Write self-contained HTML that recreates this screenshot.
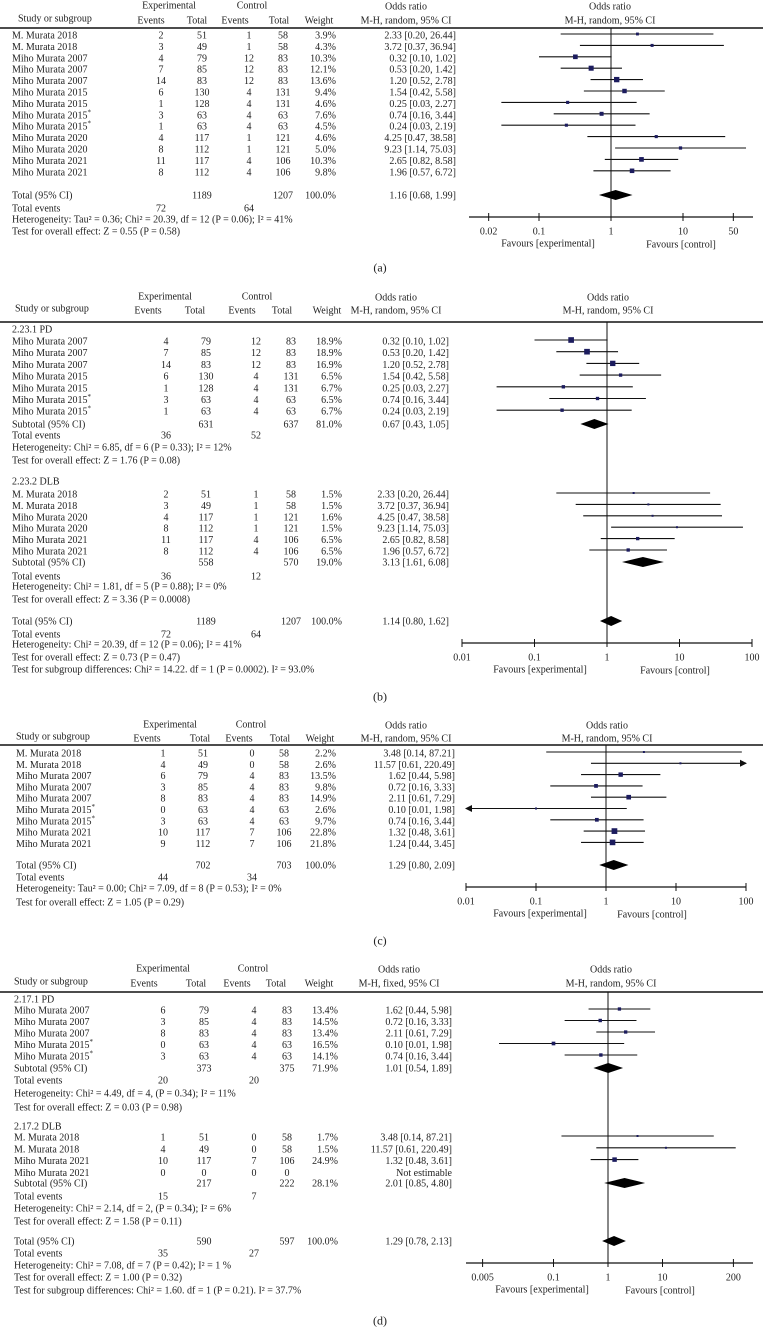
<!DOCTYPE html>
<html><head><meta charset="utf-8">
<style>
html,body{margin:0;padding:0;background:#fff;}
svg{display:block;font-family:"Liberation Serif",serif;font-size:10px;fill:#222;}
</style></head>
<body>
<svg id="fig" width="763" height="1328" viewBox="0 0 763 1328" xmlns="http://www.w3.org/2000/svg"></svg>
<script>
// ===== Panel (a) data =====
const aNames=["M. Murata 2018","M. Murata 2018","Miho Murata 2007","Miho Murata 2007","Miho Murata 2007","Miho Murata 2015","Miho Murata 2015","Miho Murata 2015*","Miho Murata 2015*","Miho Murata 2020","Miho Murata 2020","Miho Murata 2021","Miho Murata 2021"];
const aExpEv=[2,3,4,7,14,6,1,3,1,4,8,11,8];
const aExpTot=[51,49,79,85,83,130,128,63,63,117,112,117,112];
const aCtlEv=[1,1,12,12,12,4,4,4,4,1,1,4,4];
const aCtlTot=[58,58,83,83,83,131,131,63,63,121,121,106,106];
const aWeight=[3.9,4.3,10.3,12.1,13.6,9.4,4.6,7.6,4.5,4.6,5.0,10.3,9.8];
const aOR=[2.33,3.72,0.32,0.53,1.20,1.54,0.25,0.74,0.24,4.25,9.23,2.65,1.96];
const aLo=[0.20,0.37,0.10,0.20,0.52,0.42,0.03,0.16,0.03,0.47,1.14,0.82,0.57];
const aHi=[26.44,36.94,1.02,1.42,2.78,5.58,2.27,3.44,2.19,38.58,75.03,8.58,6.72];
const aTotal=[1189,1207,100.0,1.16,0.68,1.99];
const aEvents=[72,64];
const aTicks=[0.02,0.1,1,10,50];

// ===== Panel (b) data =====
const bPdNames=["Miho Murata 2007","Miho Murata 2007","Miho Murata 2007","Miho Murata 2015","Miho Murata 2015","Miho Murata 2015*","Miho Murata 2015*"];
const bPdExpEv=[4,7,14,6,1,3,1];
const bPdExpTot=[79,85,83,130,128,63,63];
const bPdCtlEv=[12,12,12,4,4,4,4];
const bPdCtlTot=[83,83,83,131,131,63,63];
const bPdWeight=[18.9,18.9,16.9,6.5,6.7,6.5,6.7];
const bPdOR=[0.32,0.53,1.20,1.54,0.25,0.74,0.24];
const bPdLo=[0.10,0.20,0.52,0.42,0.03,0.16,0.03];
const bPdHi=[1.02,1.42,2.78,5.58,2.27,3.44,2.19];
const bPdSub=[631,637,81.0,0.67,0.43,1.05];
const bPdEvents=[36,52];
const bDlbNames=["M. Murata 2018","M. Murata 2018","Miho Murata 2020","Miho Murata 2020","Miho Murata 2021","Miho Murata 2021"];
const bDlbExpEv=[2,3,4,8,11,8];
const bDlbExpTot=[51,49,117,112,117,112];
const bDlbCtlEv=[1,1,1,1,4,4];
const bDlbCtlTot=[58,58,121,121,106,106];
const bDlbWeight=[1.5,1.5,1.6,1.5,6.5,6.5];
const bDlbOR=[2.33,3.72,4.25,9.23,2.65,1.96];
const bDlbLo=[0.20,0.37,0.47,1.14,0.82,0.57];
const bDlbHi=[26.44,36.94,38.58,75.03,8.58,6.72];
const bDlbSub=[558,570,19.0,3.13,1.61,6.08];
const bDlbEvents=[36,12];
const bTotal=[1189,1207,100.0,1.14,0.80,1.62];
const bEvents=[72,64];
const bTicks=[0.01,0.1,1,10,100];

// ===== Panel (c) data =====
const cNames=["M. Murata 2018","M. Murata 2018","Miho Murata 2007","Miho Murata 2007","Miho Murata 2007","Miho Murata 2015*","Miho Murata 2015*","Miho Murata 2021","Miho Murata 2021"];
const cExpEv=[1,4,6,3,8,0,3,10,9];
const cExpTot=[51,49,79,85,83,63,63,117,112];
const cCtlEv=[0,0,4,4,4,4,4,7,7];
const cCtlTot=[58,58,83,83,83,63,63,106,106];
const cWeight=[2.2,2.6,13.5,9.8,14.9,2.6,9.7,22.8,21.8];
const cOR=[3.48,11.57,1.62,0.72,2.11,0.10,0.74,1.32,1.24];
const cLo=[0.14,0.61,0.44,0.16,0.61,0.01,0.16,0.48,0.44];
const cHi=[87.21,220.49,5.98,3.33,7.29,1.98,3.44,3.61,3.45];
const cTotal=[702,703,100.0,1.29,0.80,2.09];
const cEvents=[44,34];
const cTicks=[0.01,0.1,1,10,100];

// ===== Panel (d) data =====
const dPdNames=["Miho Murata 2007","Miho Murata 2007","Miho Murata 2007","Miho Murata 2015*","Miho Murata 2015*"];
const dPdExpEv=[6,3,8,0,3];
const dPdExpTot=[79,85,83,63,63];
const dPdCtlEv=[4,4,4,4,4];
const dPdCtlTot=[83,83,83,63,63];
const dPdWeight=[13.4,14.5,13.4,16.5,14.1];
const dPdOR=[1.62,0.72,2.11,0.10,0.74];
const dPdLo=[0.44,0.16,0.61,0.01,0.16];
const dPdHi=[5.98,3.33,7.29,1.98,3.44];
const dPdSub=[373,375,71.9,1.01,0.54,1.89];
const dPdEvents=[20,20];
const dDlbNames=["M. Murata 2018","M. Murata 2018","Miho Murata 2021","Miho Murata 2021"];
const dDlbExpEv=[1,4,10,0];
const dDlbExpTot=[51,49,117,0];
const dDlbCtlEv=[0,0,7,0];
const dDlbCtlTot=[58,58,106,0];
const dDlbWeight=[1.7,1.5,24.9,null];
const dDlbOR=[3.48,11.57,1.32,null];
const dDlbLo=[0.14,0.61,0.48,null];
const dDlbHi=[87.21,220.49,3.61,null];
const dDlbSub=[217,222,28.1,2.01,0.85,4.80];
const dDlbEvents=[15,7];
const dTotal=[590,597,100.0,1.29,0.78,2.13];
const dEvents=[35,27];
const dTicks=[0.005,0.1,1,10,200];

const NS="http://www.w3.org/2000/svg";
const svg=document.getElementById('fig');
function mk(tag,attrs,parent){const e=document.createElementNS(NS,tag);for(const k in attrs)e.setAttribute(k,attrs[k]);(parent||svg).appendChild(e);return e;}
function txt(x,y,s,anchor,g,name){
  const t=mk('text',{x:x,y:y+3.5,'text-anchor':anchor||'start'},g);
  
  
  if(s.endsWith('*')){t.textContent=s.slice(0,-1);const sp=mk('tspan',{dy:-4,'font-size':'7px'},t);sp.textContent='*';}
  else t.textContent=s;
  return t;
}
function f2(v){return v.toFixed(2);}
function ci(o,l,h){return f2(o)+' ['+f2(l)+', '+f2(h)+']';}

function panel(P){
  const g=mk('g',{});
  
  
  const H=P.hc, C=P.nc;
  const X=v=>P.cx+Math.log10(v)*P.dec;
  // headers
  txt(H.exp,P.y1,'Experimental','middle',g,'experimental-header');
  txt(H.ctl,P.y1,'Control','middle',g,'control-header');
  txt(H.orh,P.y1+1,'Odds ratio','middle',g,'odds-ratio-header');
  txt(H.forh,P.y1+1,'Odds ratio','middle',g,'forest-odds-ratio-header');
  txt(H.study,P.y2-2,'Study or subgroup','start',g,'study-header');
  txt(H.ev,P.y2,'Events','middle',g,'exp-events-header');
  txt(H.tot,P.y2,'Total','middle',g,'exp-total-header');
  txt(H.cev,P.y2,'Events','middle',g,'ctl-events-header');
  txt(H.ctot,P.y2,'Total','middle',g,'ctl-total-header');
  txt(H.wt,P.y2,'Weight','middle',g,'weight-header');
  txt(H.orh,P.y2,P.method,'middle',g,'method-header');
  txt(H.forh,P.y2,'M-H, random, 95% CI','middle',g,'forest-method-header');
  const hl=mk('line',{x1:0,x2:763,y1:P.line,y2:P.line,stroke:'#111','stroke-width':1.4},g);
  
  
  // zero (OR=1) line
  const vl=mk('line',{x1:X(1),x2:X(1),y1:P.line,y2:P.axisY,stroke:'#111','stroke-width':1},g);
  
  
  // axis
  const ax=mk('line',{x1:P.ax0,x2:P.ax1,y1:P.axisY,y2:P.axisY,stroke:'#111','stroke-width':1.2},g);
  
  
  P.ticks.forEach(t=>{
    const tk=mk('line',{x1:X(t),x2:X(t),y1:P.axisY-4,y2:P.axisY+4,stroke:'#111','stroke-width':1},g);
    
    
    txt(X(t),P.axisY+14,String(t),'middle',g,'x-tick-label');
  });
  txt(P.favE,P.axisY+26,'Favours [experimental]','middle',g,'favours-experimental');
  txt(P.favC,P.axisY+27,'Favours [control]','middle',g,'favours-control');
  txt(P.capX,P.capY,P.caption,'middle',g,'panel-caption').setAttribute('font-size','12px');

  const lo=10**((P.ax0-P.cx)/P.dec), hi=10**((P.ax1-P.cx)/P.dec);
  function studyRow(y,name,ev,tot,cev,ctot,w,o,l,h){
    txt(H.study2,y,name,'start',g,'study-name');
    txt(C.ev,y,String(ev),'middle',g,'exp-events');
    txt(C.tot,y,String(tot),'middle',g,'exp-total');
    txt(C.cev,y,String(cev),'middle',g,'ctl-events');
    txt(C.ctot,y,String(ctot),'middle',g,'ctl-total');
    if(w==null){txt(C.orR,y,'Not estimable','end',g,'odds-ratio-text');return;}
    txt(C.wtR,y,w.toFixed(1)+'%','end',g,'weight-value');
    txt(C.orR,y,ci(o,l,h),'end',g,'odds-ratio-text');
    const ly=y-1;
    const x1=Math.max(X(l),X(lo)), x2=Math.min(X(h),X(hi));
    const ln=mk('line',{x1:x1,x2:x2,y1:ly,y2:ly,stroke:'#111','stroke-width':1.1},g);
    
    
    if(h>hi){const a=mk('polygon',{points:`${x2+1},${ly} ${x2-6},${ly-3.5} ${x2-6},${ly+3.5}`,fill:'#111'},g);}
    if(l<=lo){const a=mk('polygon',{points:`${x1-1},${ly} ${x1+6},${ly-3.5} ${x1+6},${ly+3.5}`,fill:'#111'},g);}
    const s=Math.max(2,Math.sqrt(w)*P.sq);
    const r=mk('rect',{x:X(o)-s/2,y:ly-s/2,width:s,height:s,fill:'#1c1c5e'},g);
    
    
  }
  function sumRow(y,label,arr){
    txt(H.study2,y,label,'start',g,'summary-label');
    txt(C.tot,y,String(arr[0]),'middle',g,'exp-total');
    txt(C.ctot,y,String(arr[1]),'middle',g,'ctl-total');
    txt(C.wtR,y,arr[2].toFixed(1)+'%','end',g,'weight-value');
    txt(C.orR,y,ci(arr[3],arr[4],arr[5]),'end',g,'odds-ratio-text');
    const dy=y, xl=X(arr[4]), xr=X(arr[5]), xc=X(arr[3]);
    const d=mk('polygon',{points:`${xl},${dy} ${xc},${dy-5} ${xr},${dy} ${xc},${dy+5}`,fill:'#000'},g);
    
    
  }
  function evRow(y,arr){
    txt(H.study2,y,'Total events','start',g,'total-events-label');
    txt(C.ev,y,String(arr[0]),'middle',g,'exp-total-events');
    txt(C.cev,y,String(arr[1]),'middle',g,'ctl-total-events');
  }
  P.blocks.forEach(b=>{
    if(b.head) txt(H.study2,b.head,b.headText,'start',g,'subgroup-heading');
    b.names.forEach((n,i)=>studyRow(b.y0+i*b.step,n,b.ev[i],b.tot[i],b.cev[i],b.ctot[i],b.w[i],b.or[i],b.lo[i],b.hi[i]));
    sumRow(b.sumY,b.sumLabel,b.sum);
    evRow(b.evY,b.events);
    b.notes.forEach(nt=>txt(H.study2,nt[0],nt[1],'start',g,'statistics-note'));
  });
}

panel({name:'panel-a',caption:'(a)',capX:380,capY:268,method:'M-H, random, 95% CI',
  y1:5,y2:20,line:28,cx:611,dec:72,ax0:469,ax1:753,axisY:217,ticks:aTicks,favE:548,favC:681,sq:1.45,
  hc:{exp:169,ctl:252,orh:406,forh:610,study:18,study2:12,ev:151,tot:197,cev:235,ctot:279,wt:319},
  nc:{ev:161,tot:202,cev:249,ctot:283,wtR:336,orR:456},
  blocks:[{names:aNames,ev:aExpEv,tot:aExpTot,cev:aCtlEv,ctot:aCtlTot,w:aWeight,or:aOR,lo:aLo,hi:aHi,y0:35,step:11.4,
    sumY:195,sumLabel:'Total (95% CI)',sum:aTotal,evY:208,events:aEvents,
    notes:[[219,'Heterogeneity: Tau² = 0.36; Chi² = 20.39, df = 12 (P = 0.06); I² = 41%'],[231,'Test for overall effect: Z = 0.55 (P = 0.58)']]}]});

panel({name:'panel-b',caption:'(b)',capX:380,capY:697,method:'M-H, random, 95% CI',
  y1:296,y2:310,line:322,cx:607,dec:72.5,ax0:462,ax1:752,axisY:643,ticks:bTicks,favE:540,favC:675,sq:1.3,
  hc:{exp:165,ctl:257,orh:396,forh:608,study:15,study2:12,ev:148,tot:195,cev:242,ctot:282,wt:327},
  nc:{ev:166,tot:206,cev:256,ctot:291,wtR:342,orR:449},
  blocks:[
   {head:329,headText:'2.23.1 PD',names:bPdNames,ev:bPdExpEv,tot:bPdExpTot,cev:bPdCtlEv,ctot:bPdCtlTot,w:bPdWeight,or:bPdOR,lo:bPdLo,hi:bPdHi,y0:341,step:11.7,
    sumY:424,sumLabel:'Subtotal (95% CI)',sum:bPdSub,evY:435,events:bPdEvents,
    notes:[[447,'Heterogeneity: Chi² = 6.85, df = 6 (P = 0.33); I² = 12%'],[460,'Test for overall effect: Z = 1.76 (P = 0.08)']]},
   {head:481,headText:'2.23.2 DLB',names:bDlbNames,ev:bDlbExpEv,tot:bDlbExpTot,cev:bDlbCtlEv,ctot:bDlbCtlTot,w:bDlbWeight,or:bDlbOR,lo:bDlbLo,hi:bDlbHi,y0:494,step:11.4,
    sumY:562,sumLabel:'Subtotal (95% CI)',sum:bDlbSub,evY:576,events:bDlbEvents,
    notes:[[586,'Heterogeneity: Chi² = 1.81, df = 5 (P = 0.88); I² = 0%'],[599,'Test for overall effect: Z = 3.36 (P = 0.0008)']]},
   {names:[],sumY:621,sumLabel:'Total (95% CI)',sum:bTotal,evY:634,events:bEvents,
    notes:[[644,'Heterogeneity: Chi² = 20.39, df = 12 (P = 0.06); I² = 41%'],[657,'Test for overall effect: Z = 0.73 (P = 0.47)'],[669,'Test for subgroup differences: Chi² = 14.22. df = 1 (P = 0.0002). I² = 93.0%']]}]});

panel({name:'panel-c',caption:'(c)',capX:380,capY:941,method:'M-H, random, 95% CI',
  y1:724,y2:738,line:745,cx:606,dec:70,ax0:466,ax1:746,axisY:887,ticks:cTicks,favE:540,favC:652,sq:1.2,
  hc:{exp:170,ctl:251,orh:406,forh:607,study:16,study2:16,ev:147,tot:200,cev:239,ctot:280,wt:320},
  nc:{ev:163,tot:203,cev:252,ctot:284,wtR:336,orR:455},
  blocks:[{names:cNames,ev:cExpEv,tot:cExpTot,cev:cCtlEv,ctot:cCtlTot,w:cWeight,or:cOR,lo:cLo,hi:cHi,y0:753,step:11.3,
    sumY:865,sumLabel:'Total (95% CI)',sum:cTotal,evY:877,events:cEvents,
    notes:[[888,'Heterogeneity: Tau² = 0.00; Chi² = 7.09, df = 8 (P = 0.53); I² = 0%'],[902,'Test for overall effect: Z = 1.05 (P = 0.29)']]}]});

panel({name:'panel-d',caption:'(d)',capX:380,capY:1321,method:'M-H, fixed, 95% CI',
  y1:968,y2:983,line:992,cx:608,dec:54.5,ax0:466,ax1:753,axisY:1263,ticks:dTicks,favE:542,favC:660,sq:0.9,
  hc:{exp:163,ctl:253,orh:399,forh:611,study:14,study2:14,ev:144,tot:196,cev:237,ctot:276,wt:319},
  nc:{ev:163,tot:204,cev:254,ctot:287,wtR:338,orR:452},
  blocks:[
   {head:999,headText:'2.17.1 PD',names:dPdNames,ev:dPdExpEv,tot:dPdExpTot,cev:dPdCtlEv,ctot:dPdCtlTot,w:dPdWeight,or:dPdOR,lo:dPdLo,hi:dPdHi,y0:1010,step:11.5,
    sumY:1068,sumLabel:'Subtotal (95% CI)',sum:dPdSub,evY:1080,events:dPdEvents,
    notes:[[1093,'Heterogeneity: Chi² = 4.49, df = 4, (P = 0.34); I² = 11%'],[1107,'Test for overall effect: Z = 0.03 (P = 0.98)']]},
   {head:1126,headText:'2.17.2 DLB',names:dDlbNames,ev:dDlbExpEv,tot:dDlbExpTot,cev:dDlbCtlEv,ctot:dDlbCtlTot,w:dDlbWeight,or:dDlbOR,lo:dDlbLo,hi:dDlbHi,y0:1137,step:11.8,
    sumY:1183,sumLabel:'Subtotal (95% CI)',sum:dDlbSub,evY:1196,events:dDlbEvents,
    notes:[[1208,'Heterogeneity: Chi² = 2.14, df = 2, (P = 0.34); I² = 6%'],[1221,'Test for overall effect: Z = 1.58 (P = 0.11)']]},
   {names:[],sumY:1241,sumLabel:'Total (95% CI)',sum:dTotal,evY:1253,events:dEvents,
    notes:[[1265,'Heterogeneity: Chi² = 7.08, df = 7 (P = 0.42); I² = 1 %'],[1277,'Test for overall effect: Z = 1.00 (P = 0.32)'],[1290,'Test for subgroup differences: Chi² = 1.60. df = 1 (P = 0.21). I² = 37.7%']]}]});
</script>
</body></html>
